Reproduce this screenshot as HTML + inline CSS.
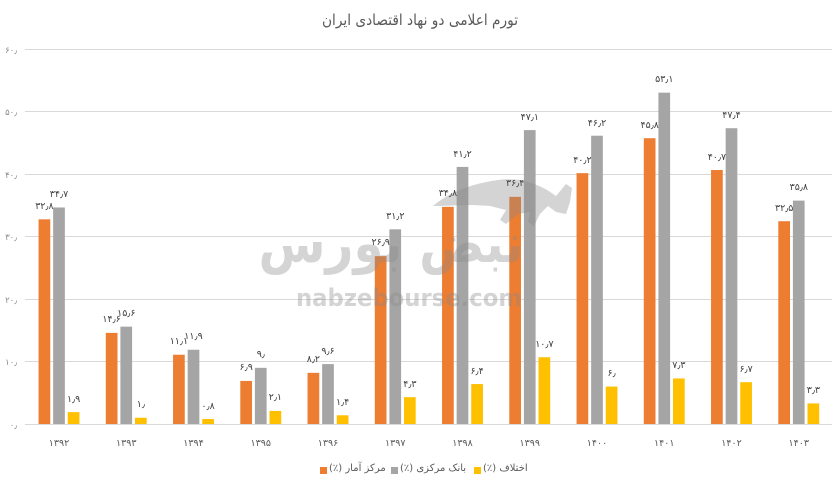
<!DOCTYPE html>
<html><head><meta charset="utf-8">
<style>
html,body{margin:0;padding:0;background:#fff;}
body{width:838px;height:484px;position:relative;overflow:hidden;font-family:"Liberation Sans","DejaVu Sans",sans-serif;}
svg{position:absolute;left:0;top:0;}
.lg{position:absolute;top:462px;font-size:10px;color:#595959;white-space:nowrap;font-family:"DejaVu Sans","Liberation Sans",sans-serif;line-height:14px;}
.sq{position:absolute;top:467px;width:7px;height:7px;}
</style></head>
<body>
<svg width="838" height="484" viewBox="0 0 838 484" xmlns="http://www.w3.org/2000/svg" font-family="'DejaVu Sans','Liberation Sans',sans-serif">
<text x="420" y="25" text-anchor="middle" font-size="15" fill="#595959" textLength="196" lengthAdjust="spacingAndGlyphs">تورم اعلامی دو نهاد اقتصادی ایران</text>
<g stroke="#d9d9d9" stroke-width="1">
<line x1="25" y1="49.5" x2="832" y2="49.5"/>
<line x1="25" y1="111.5" x2="832" y2="111.5"/>
<line x1="25" y1="174.5" x2="832" y2="174.5"/>
<line x1="25" y1="236.5" x2="832" y2="236.5"/>
<line x1="25" y1="299.5" x2="832" y2="299.5"/>
<line x1="25" y1="361.5" x2="832" y2="361.5"/>
<line x1="25" y1="424.5" x2="832" y2="424.5"/>
</g>
<g font-size="8.5" fill="#8a8a8a" text-anchor="end">
<text x="17" y="53">۶۰٫</text>
<text x="17" y="115">۵۰٫</text>
<text x="17" y="178">۴۰٫</text>
<text x="17" y="240">۳۰٫</text>
<text x="17" y="303">۲۰٫</text>
<text x="17" y="365">۱۰٫</text>
<text x="17" y="428">۰٫</text>
</g>
<g fill="#ED7D31">
<rect x="38.55" y="219.33" width="11.7" height="204.67"/>
<rect x="105.8" y="332.9" width="11.7" height="91.1"/>
<rect x="173.05" y="354.74" width="11.7" height="69.26"/>
<rect x="240.3" y="380.94" width="11.7" height="43.06"/>
<rect x="307.55" y="372.83" width="11.7" height="51.17"/>
<rect x="374.8" y="256.14" width="11.7" height="167.86"/>
<rect x="442.05" y="206.85" width="11.7" height="217.15"/>
<rect x="509.3" y="196.86" width="11.7" height="227.14"/>
<rect x="576.55" y="173.15" width="11.7" height="250.85"/>
<rect x="643.8" y="138.21" width="11.7" height="285.79"/>
<rect x="711.05" y="170.03" width="11.7" height="253.97"/>
<rect x="778.3" y="221.2" width="11.7" height="202.8"/>
</g>
<g fill="#A5A5A5">
<rect x="53.15" y="207.47" width="11.7" height="216.53"/>
<rect x="120.4" y="326.66" width="11.7" height="97.34"/>
<rect x="187.65" y="349.74" width="11.7" height="74.26"/>
<rect x="254.9" y="367.84" width="11.7" height="56.16"/>
<rect x="322.15" y="364.1" width="11.7" height="59.9"/>
<rect x="389.4" y="229.31" width="11.7" height="194.69"/>
<rect x="456.65" y="166.91" width="11.7" height="257.09"/>
<rect x="523.9" y="130.1" width="11.7" height="293.9"/>
<rect x="591.15" y="135.71" width="11.7" height="288.29"/>
<rect x="658.4" y="92.66" width="11.7" height="331.34"/>
<rect x="725.65" y="128.22" width="11.7" height="295.78"/>
<rect x="792.9" y="200.61" width="11.7" height="223.39"/>
</g>
<g fill="#FFC000">
<rect x="67.75" y="412.14" width="11.7" height="11.86"/>
<rect x="135" y="417.76" width="11.7" height="6.24"/>
<rect x="202.25" y="419.01" width="11.7" height="4.99"/>
<rect x="269.5" y="410.9" width="11.7" height="13.1"/>
<rect x="336.75" y="415.26" width="11.7" height="8.74"/>
<rect x="404" y="397.17" width="11.7" height="26.83"/>
<rect x="471.25" y="384.06" width="11.7" height="39.94"/>
<rect x="538.5" y="357.23" width="11.7" height="66.77"/>
<rect x="605.75" y="386.56" width="11.7" height="37.44"/>
<rect x="673" y="378.45" width="11.7" height="45.55"/>
<rect x="740.25" y="382.19" width="11.7" height="41.81"/>
<rect x="807.5" y="403.41" width="11.7" height="20.59"/>
</g>
<g opacity="0.36" fill="#8a8a8a">
<path d="M433,206 C448,193 470,184 498,180 C520,177 540,184 556,196 L566,184 L572,188 L570,202 L566,214 L556,212 L548,206 L540,214 L534,226 L528,222 L530,212 L518,214 L506,224 L500,220 L506,210 L490,206 C470,204 450,206 433,206 Z"/>
<text x="391" y="262" font-size="54" font-weight="bold" text-anchor="middle" textLength="265" lengthAdjust="spacingAndGlyphs">نبض بورس</text>
<text x="409" y="306" font-size="24" font-weight="bold" text-anchor="middle" textLength="226" lengthAdjust="spacingAndGlyphs">nabzebourse.com</text>
</g>
<g font-size="9.5" fill="#404040" text-anchor="middle">
<text x="44.4" y="209">۳۲٫۸</text>
<text x="59" y="197">۳۴٫۷</text>
<text x="73.6" y="402">۱٫۹</text>
<text x="111.6" y="322">۱۴٫۶</text>
<text x="126.3" y="316">۱۵٫۶</text>
<text x="140.9" y="407">۱٫</text>
<text x="178.9" y="344">۱۱٫۱</text>
<text x="193.5" y="339">۱۱٫۹</text>
<text x="208.1" y="409">۰٫۸</text>
<text x="246.2" y="370">۶٫۹</text>
<text x="260.8" y="357">۹٫</text>
<text x="275.4" y="400">۲٫۱</text>
<text x="313.4" y="362">۸٫۲</text>
<text x="328" y="354">۹٫۶</text>
<text x="342.6" y="405">۱٫۴</text>
<text x="380.7" y="245">۲۶٫۹</text>
<text x="395.3" y="219">۳۱٫۲</text>
<text x="409.9" y="387">۴٫۳</text>
<text x="447.9" y="196">۳۴٫۸</text>
<text x="462.5" y="157">۴۱٫۲</text>
<text x="477.1" y="374">۶٫۴</text>
<text x="515.2" y="186">۳۶٫۴</text>
<text x="529.8" y="120">۴۷٫۱</text>
<text x="544.4" y="347">۱۰٫۷</text>
<text x="582.4" y="163">۴۰٫۲</text>
<text x="597" y="126">۴۶٫۲</text>
<text x="611.6" y="376">۶٫</text>
<text x="649.7" y="128">۴۵٫۸</text>
<text x="664.3" y="82">۵۳٫۱</text>
<text x="678.9" y="368">۷٫۳</text>
<text x="716.9" y="160">۴۰٫۷</text>
<text x="731.5" y="118">۴۷٫۴</text>
<text x="746.1" y="372">۶٫۷</text>
<text x="784.2" y="211">۳۲٫۵</text>
<text x="798.8" y="190">۳۵٫۸</text>
<text x="813.4" y="393">۳٫۳</text>
</g>
<g font-size="9.5" fill="#595959" text-anchor="middle">
<text x="59" y="446">۱۳۹۲</text>
<text x="126.25" y="446">۱۳۹۳</text>
<text x="193.5" y="446">۱۳۹۴</text>
<text x="260.75" y="446">۱۳۹۵</text>
<text x="328" y="446">۱۳۹۶</text>
<text x="395.25" y="446">۱۳۹۷</text>
<text x="462.5" y="446">۱۳۹۸</text>
<text x="529.75" y="446">۱۳۹۹</text>
<text x="597" y="446">۱۴۰۰</text>
<text x="664.25" y="446">۱۴۰۱</text>
<text x="731.5" y="446">۱۴۰۲</text>
<text x="798.75" y="446">۱۴۰۳</text>
</g>
</svg>
<div class="sq" style="left:320px;background:#ED7D31"></div>
<div class="lg" dir="rtl" style="left:329px">مرکز آمار (٪)</div>
<div class="sq" style="left:391px;background:#A5A5A5"></div>
<div class="lg" dir="rtl" style="left:400px">بانک مرکزی (٪)</div>
<div class="sq" style="left:474px;background:#FFC000"></div>
<div class="lg" dir="rtl" style="left:483px">اختلاف (٪)</div>
</body></html>
